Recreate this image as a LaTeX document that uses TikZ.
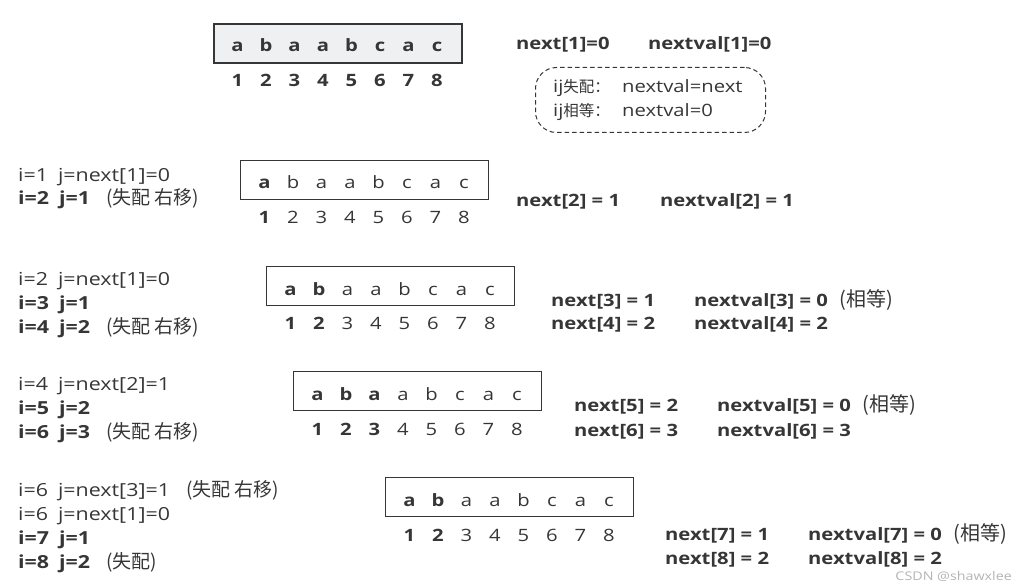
\documentclass[tikz,border=0pt]{standalone}
\usepackage{fontspec}
\setmainfont{Open Sans}[FakeStretch=1.19]
\newfontfamily\cjk{Noto Sans CJK SC}
\definecolor{ink}{HTML}{363636}
\definecolor{boxfill}{HTML}{EEF0F2}
\definecolor{wm}{HTML}{B4B4B4}
\newcommand\fs{\fontsize{17}{20}\selectfont}
\newcommand\lfs{\fontsize{18}{21}\selectfont}
\newcommand\gp{\hspace{0.55em}}
\newcommand\zh[2]{{\cjk\fontsize{#1}{20}\selectfont #2}}
\tikzset{
  txt/.style={anchor=base west, inner sep=0pt, text=ink, font=\fs},
  btxt/.style={txt, font=\fs\bfseries},
  ltxt/.style={txt, font=\lfs},
  lbtxt/.style={txt, font=\lfs\bfseries},
  cellc/.style={anchor=base, inner sep=0pt, text=ink},
  strbox/.style={draw=ink, line width=1pt, minimum width=248pt, minimum height=39pt, anchor=north west, inner sep=0pt},
  topbox/.style={strbox, line width=2pt, fill=boxfill},
  notebox/.style={draw=ink, dashed, dash pattern=on 4.5pt off 3pt, rounded corners=21pt, line width=1pt, minimum width=230pt, minimum height=65pt, anchor=north west, inner sep=0pt},
}
% #1 name, #2 left x, #3 top y, #4 number of bold cells, #5 box style
\newcommand\strrow[5]{%
  \node[#5] (#1box) at (#2,#3) {};
  \foreach \c [count=\k] in {a,b,a,a,b,c,a,c} {
    \ifnum\k>#4\relax\def\ff{}\else\def\ff{\bfseries}\fi
    \pgfmathsetmacro\xx{#2+24.5+28.5*(\k-1)}
    \node[cellc, font=\fs\ff] (#1l\k) at (\xx,#3+29) {\c};
    \node[cellc, font=\fs\ff] (#1d\k) at (\xx,#3+64) {\k};
  }%
}
\newcommand\shift{\hspace{16pt}\zh{19}{(失配 右移)}}
\newcommand\eq{\hspace{12pt}\zh{20}{(相等)}}
\begin{document}
\begin{tikzpicture}[x=1pt,y=-1pt]
\useasboundingbox (0,0) rectangle (1026,588);

% ---- row 1
\strrow{ra}{213}{23}{8}{topbox}
\node[btxt] (n1) at (516,50) {next[1]=0};
\node[btxt] (v1) at (648,50) {nextval[1]=0};
\node[notebox] (note) at (535,67) {};
\node[txt] (note1a) at (553,93) {ij\zh{15.5}{失配：}};
\node[txt] (note1b) at (622,93) {nextval=next};
\node[txt] (note2a) at (553,117) {ij\zh{15.5}{相等：}};
\node[txt] (note2b) at (622,117) {nextval=0};

% ---- row 2
\strrow{rb}{240}{160}{1}{strbox}
\node[ltxt] (b1) at (18,182) {i=1\gp j=next[1]=0};
\node[ltxt] (b2) at (18,205) {\textbf{i=2\gp j=1}\shift};
\node[btxt] (n2) at (516,207) {next[2] = 1};
\node[btxt] (v2) at (660,207) {nextval[2] = 1};

% ---- row 3
\strrow{rc}{266}{266}{2}{strbox}
\node[ltxt] (c1) at (18,286) {i=2\gp j=next[1]=0};
\node[lbtxt] (c2) at (18,309) {i=3\gp j=1};
\node[ltxt] (c3) at (18,333) {\textbf{i=4\gp j=2}\shift};
\node[btxt] (n3) at (551,306) {next[3] = 1};
\node[txt] (v3) at (694,306) {\textbf{nextval[3] = 0}\eq};
\node[btxt] (n4) at (551,330) {next[4] = 2};
\node[btxt] (v4) at (694,330) {nextval[4] = 2};

% ---- row 4
\strrow{rd}{293}{371}{3}{strbox}
\node[ltxt] (d1) at (18,390) {i=4\gp j=next[2]=1};
\node[lbtxt] (d2) at (18,414) {i=5\gp j=2};
\node[ltxt] (d3) at (18,438) {\textbf{i=6\gp j=3}\shift};
\node[btxt] (n5) at (574,411) {next[5] = 2};
\node[txt] (v5) at (717,411) {\textbf{nextval[5] = 0}\eq};
\node[btxt] (n6) at (574,436) {next[6] = 3};
\node[btxt] (v6) at (717,436) {nextval[6] = 3};

% ---- row 5
\strrow{re}{385}{477}{2}{strbox}
\node[ltxt] (e1) at (18,496) {i=6\gp j=next[3]=1\hspace{16pt}\zh{19}{(失配 右移)}};
\node[ltxt] (e2) at (18,520) {i=6\gp j=next[1]=0};
\node[lbtxt] (e3) at (18,544) {i=7\gp j=1};
\node[ltxt] (e4) at (18,568) {\textbf{i=8\gp j=2}\hspace{16pt}\zh{19}{(失配)}};
\node[btxt] (n7) at (665,540) {next[7] = 1};
\node[txt] (v7) at (808,540) {\textbf{nextval[7] = 0}\eq};
\node[btxt] (n8) at (665,564) {next[8] = 2};
\node[btxt] (v8) at (808,564) {nextval[8] = 2};

% watermark
\node[anchor=base east, inner sep=0pt, text=wm, font=\fontsize{12}{15}\selectfont] (wmark) at (1012,580) {CSDN @shawxlee};
\end{tikzpicture}
\end{document}
